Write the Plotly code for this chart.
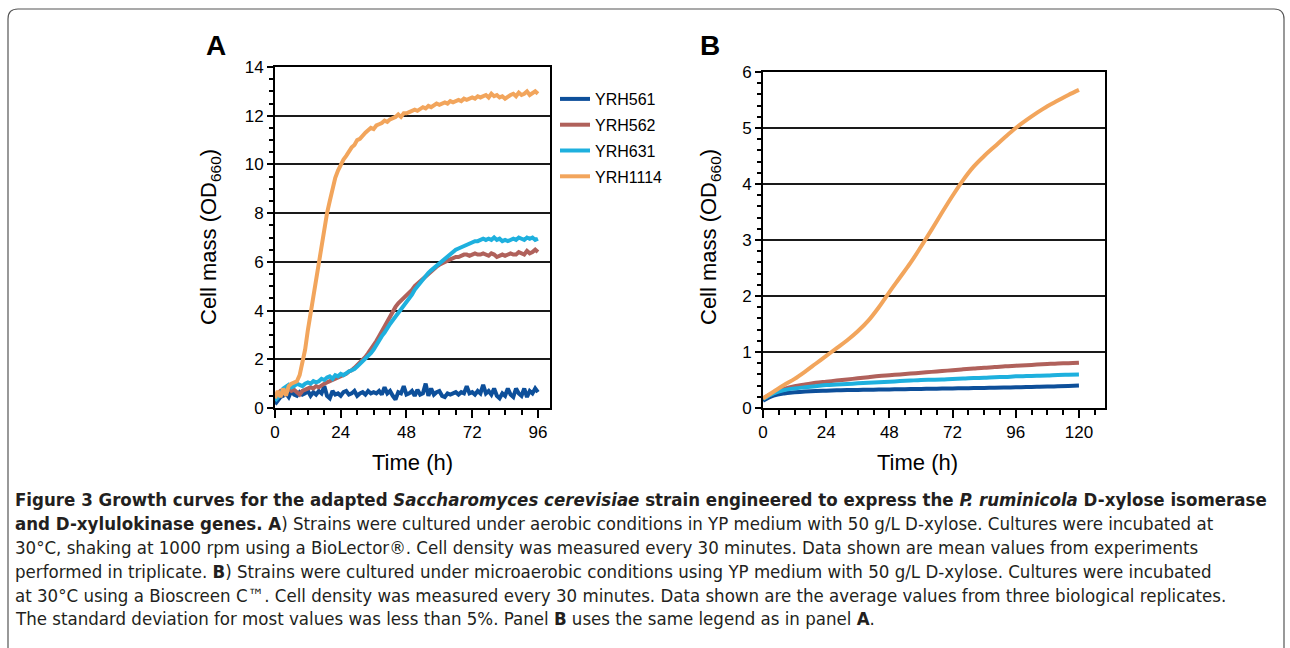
import plotly.graph_objects as go

W, H = 1290, 648

# ---------------- data ----------------
strains = ["YRH561", "YRH562", "YRH631", "YRH1114"]
colors = ["#0d4f9a", "#b0615b", "#1eb0de", "#f2a55c"]

# Panel A: hourly readings, 0..96 h
time_a = list(range(0, 97))
yrh561_a = [0.15, 0.3, 0.45, 0.5, 0.6, 0.45, 0.7, 0.55, 0.5, 0.65, 0.55, 0.6, 0.7, 0.5, 0.65, 0.55, 0.7, 0.6, 0.9, 0.5,
            0.4, 0.7, 0.55, 0.6, 0.5, 0.65, 0.7, 0.55, 0.6, 0.7, 0.5, 0.6, 0.65, 0.55, 0.7, 0.6, 0.65, 0.6, 0.7, 0.55,
            0.85, 0.6, 0.7, 0.5, 0.35, 0.65, 0.6, 0.9, 0.55, 0.6, 0.7, 0.5, 0.75, 0.55, 0.6, 1.0, 0.5, 0.8, 0.55, 0.65,
            0.7, 0.5, 0.45, 0.6, 0.55, 0.6, 0.65, 0.55, 0.65, 0.6, 0.9, 0.6, 0.65, 0.55, 0.7, 0.6, 0.95, 0.6, 0.7, 0.55,
            0.8, 0.5, 0.4, 0.6, 0.5, 0.8, 0.55, 0.45, 0.8, 0.6, 0.5, 0.8, 0.45, 0.7, 0.6, 0.8, 0.65]
yrh562_a = [0.5, 0.6, 0.7, 0.65, 0.75, 0.8, 0.7, 0.75, 0.65, 0.55, 0.7, 0.75, 0.8, 0.85, 0.8, 0.9, 0.85, 0.95, 1.0, 1.05,
            1.1, 1.15, 1.2, 1.25, 1.3, 1.35, 1.4, 1.5, 1.55, 1.65, 1.75, 1.85, 1.95, 2.1, 2.25, 2.4, 2.55, 2.75, 2.95, 3.15,
            3.35, 3.55, 3.8, 3.95, 4.15, 4.3, 4.4, 4.55, 4.65, 4.75, 4.85, 5.0, 5.1, 5.25, 5.35, 5.45, 5.55, 5.62, 5.7, 5.8,
            5.88, 5.95, 6.0, 6.05, 6.1, 6.15, 6.2, 6.2, 6.25, 6.3, 6.3, 6.25, 6.3, 6.35, 6.3, 6.3, 6.35, 6.3, 6.25, 6.35,
            6.3, 6.2, 6.25, 6.3, 6.25, 6.3, 6.35, 6.3, 6.3, 6.4, 6.35, 6.3, 6.45, 6.35, 6.4, 6.5, 6.4]
yrh631_a = [0.3, 0.4, 0.55, 0.8, 0.9, 0.95, 0.85, 0.9, 1.0, 0.95, 0.9, 1.0, 1.05, 1.0, 1.1, 1.05, 1.1, 1.2, 1.15, 1.25,
            1.3, 1.2, 1.35, 1.3, 1.4, 1.35, 1.45, 1.5, 1.55, 1.6, 1.7, 1.8, 1.9, 2.0, 2.1, 2.25, 2.4, 2.6, 2.8, 2.95,
            3.1, 3.3, 3.45, 3.6, 3.75, 3.85, 4.0, 4.2, 4.35, 4.5, 4.65, 4.85, 5.0, 5.15, 5.3, 5.45, 5.55, 5.65, 5.75, 5.85,
            5.95, 6.05, 6.1, 6.2, 6.3, 6.4, 6.5, 6.55, 6.6, 6.65, 6.7, 6.75, 6.8, 6.85, 6.85, 6.9, 6.95, 6.9, 6.95, 6.9,
            7.0, 6.9, 6.95, 6.85, 6.9, 6.85, 6.9, 6.95, 6.9, 7.0, 6.95, 6.9, 7.0, 6.95, 7.0, 6.9, 6.95]
yrh1114_a = [0.4, 0.7, 0.45, 0.8, 0.5, 0.9, 1.0, 1.05, 1.1, 1.35, 1.8, 2.4, 3.2, 3.9, 4.6, 5.3, 6.0, 6.7, 7.4, 8.0,
             8.5, 9.0, 9.45, 9.75, 10.0, 10.2, 10.35, 10.55, 10.7, 10.8, 11.0, 11.05, 11.2, 11.3, 11.4, 11.5, 11.45, 11.6, 11.65, 11.7,
             11.8, 11.75, 11.85, 11.9, 11.95, 12.05, 11.95, 12.1, 12.1, 12.15, 12.2, 12.25, 12.2, 12.3, 12.35, 12.3, 12.4, 12.35, 12.45, 12.5,
             12.45, 12.5, 12.55, 12.5, 12.6, 12.55, 12.6, 12.65, 12.6, 12.7, 12.65, 12.7, 12.75, 12.7, 12.8, 12.75, 12.8, 12.85, 12.75, 12.9,
             12.8, 12.85, 12.75, 12.8, 12.7, 12.8, 12.85, 12.9, 12.8, 12.95, 12.85, 12.9, 13.0, 12.85, 12.95, 13.0, 12.9]

# Panel B: readings every 4 h, 0..120 h
time_b = list(range(0, 121, 4))
yrh561_b = [0.13, 0.22, 0.26, 0.28, 0.295, 0.305, 0.31, 0.315, 0.32, 0.323, 0.326, 0.329, 0.332, 0.335, 0.338, 0.341,
            0.344, 0.347, 0.35, 0.353, 0.356, 0.359, 0.362, 0.366, 0.37, 0.374, 0.378, 0.382, 0.388, 0.394, 0.4]
yrh562_b = [0.17, 0.27, 0.34, 0.39, 0.42, 0.45, 0.47, 0.49, 0.51, 0.53, 0.55, 0.57, 0.585, 0.6, 0.615, 0.63,
            0.645, 0.66, 0.675, 0.69, 0.705, 0.72, 0.73, 0.745, 0.755, 0.765, 0.775, 0.785, 0.795, 0.8, 0.81]
yrh631_b = [0.16, 0.26, 0.32, 0.35, 0.37, 0.39, 0.41, 0.42, 0.43, 0.44, 0.45, 0.46, 0.47, 0.48, 0.49, 0.5,
            0.505, 0.51, 0.52, 0.525, 0.535, 0.54, 0.55, 0.555, 0.565, 0.57, 0.575, 0.58, 0.59, 0.595, 0.6]
yrh1114_b = [0.17, 0.29, 0.41, 0.52, 0.65, 0.79, 0.93, 1.07, 1.21, 1.37, 1.56, 1.8, 2.07, 2.33, 2.59, 2.88,
             3.18, 3.49, 3.79, 4.07, 4.31, 4.5, 4.67, 4.84, 5.0, 5.14, 5.27, 5.39, 5.49, 5.59, 5.68]

x_ticks_a = [0, 24, 48, 72, 96]
x_ticks_b = [0, 24, 48, 72, 96, 120]
y_ticks_a = [0, 2, 4, 6, 8, 10, 12, 14]
y_ticks_b = [0, 1, 2, 3, 4, 5, 6]

# ---------------- figure ----------------
def px_x(x):
    return x / W

def px_y(y):
    return (H - y) / H

fig = go.Figure()
series_a = [yrh561_a, yrh562_a, yrh631_a, yrh1114_a]
series_b = [yrh561_b, yrh562_b, yrh631_b, yrh1114_b]
for name, col, ya in zip(strains, colors, series_a):
    fig.add_trace(go.Scatter(x=time_a, y=ya, mode="lines", name=name,
                             line=dict(color=col, width=4), xaxis="x", yaxis="y",
                             legendgroup=name))
for name, col, yb in zip(strains, colors, series_b):
    fig.add_trace(go.Scatter(x=time_b, y=yb, mode="lines", name=name, showlegend=False,
                             line=dict(color=col, width=4, shape="spline"), xaxis="x2", yaxis="y2",
                             legendgroup=name))

sans = "Liberation Sans, Arial, sans-serif"
tickfont = dict(family=sans, size=17, color="black")
common_x = dict(showgrid=False, showline=True, linecolor="black", linewidth=2, mirror=True,
                ticks="outside", ticklen=8, tickwidth=2, tickcolor="black", tickfont=tickfont,
                zeroline=False,
                minor=dict(dtick=6, ticks="outside", ticklen=5, tickwidth=1.5, tickcolor="black", showgrid=False))
common_y = dict(showgrid=True, gridcolor="#1a1a1a", gridwidth=1.5, showline=True, linecolor="black",
                linewidth=2, mirror=True, ticks="outside", ticklen=6, tickwidth=2, tickcolor="black",
                tickfont=tickfont, zeroline=False)

fig.update_layout(
    width=W, height=H, margin=dict(l=0, r=0, t=0, b=0, autoexpand=False),
    paper_bgcolor="white", plot_bgcolor="white",
    xaxis=dict(domain=[px_x(275), px_x(550)], range=[0, 100.4], tickvals=x_ticks_a, anchor="y", **common_x),
    yaxis=dict(domain=[px_y(408), px_y(67)], range=[0, 14], tickvals=y_ticks_a, anchor="x",
               minor=dict(dtick=0.5, ticks="outside", ticklen=4, tickwidth=1.5, tickcolor="black", showgrid=False),
               **common_y),
    xaxis2=dict(domain=[px_x(763), px_x(1105)], range=[0, 129.9], tickvals=x_ticks_b, anchor="y2", **common_x),
    yaxis2=dict(domain=[px_y(408), px_y(72)], range=[0, 6], tickvals=y_ticks_b, anchor="x2",
                minor=dict(dtick=0.2, ticks="outside", ticklen=4, tickwidth=1.5, tickcolor="black", showgrid=False),
                **common_y),
    legend=dict(x=px_x(555), y=px_y(82), xanchor="left", yanchor="top", tracegroupgap=2,
                font=dict(family=sans, size=16, color="black"),
                bgcolor="rgba(0,0,0,0)"),
    showlegend=True,
)

title_font = dict(family=sans, size=22, color="black")
ann = []
ann.append(dict(text="<b>A</b>", x=px_x(204), y=px_y(46), xref="paper", yref="paper", showarrow=False,
                xanchor="left", yanchor="middle", font=dict(family=sans, size=28, color="black")))
ann.append(dict(text="<b>B</b>", x=px_x(698), y=px_y(46), xref="paper", yref="paper", showarrow=False,
                xanchor="left", yanchor="middle", font=dict(family=sans, size=28, color="black")))
for cx in (210, 710):
    ann.append(dict(text="Cell mass (OD<sub>660</sub>)", x=px_x(cx), y=px_y(237), xref="paper", yref="paper",
                    showarrow=False, textangle=-90, xanchor="center", yanchor="middle", font=title_font))
for cx in (412, 917):
    ann.append(dict(text="Time (h)", x=px_x(cx), y=px_y(462), xref="paper", yref="paper",
                    showarrow=False, xanchor="center", yanchor="middle", font=title_font))

caption = [
    "<b>Figure 3 Growth curves for the adapted <i>Saccharomyces cerevisiae</i> strain engineered to express the <i>P. ruminicola</i> D-xylose isomerase</b>",
    "<b>and D-xylulokinase genes. A</b>) Strains were cultured under aerobic conditions in YP medium with 50 g/L D-xylose. Cultures were incubated at",
    "30°C, shaking at 1000 rpm using a BioLector®. Cell density was measured every 30 minutes. Data shown are mean values from experiments",
    "performed in triplicate. <b>B</b>) Strains were cultured under microaerobic conditions using YP medium with 50 g/L D-xylose. Cultures were incubated",
    "at 30°C using a Bioscreen C™. Cell density was measured every 30 minutes. Data shown are the average values from three biological replicates.",
    "The standard deviation for most values was less than 5%. Panel <b>B</b> uses the same legend as in panel <b>A</b>.",
]
cap_y = [499, 523, 547, 571, 595, 618]
for line, yy in zip(caption, cap_y):
    ann.append(dict(text=line, x=px_x(13), y=px_y(yy), xref="paper", yref="paper", showarrow=False,
                    xanchor="left", yanchor="middle",
                    font=dict(family="DejaVu Sans Condensed, DejaVu Sans", size=18.5, color="#231f20")))
fig.update_layout(annotations=ann)

# rounded frame around the figure panel
r = 10
x0, y0, x1, y1 = 8, 9, 1284, 660
path = (f"M {px_x(x0)} {px_y(y1)} L {px_x(x0)} {px_y(y0 + r)} Q {px_x(x0)} {px_y(y0)} {px_x(x0 + r)} {px_y(y0)} "
        f"L {px_x(x1 - r)} {px_y(y0)} Q {px_x(x1)} {px_y(y0)} {px_x(x1)} {px_y(y0 + r)} L {px_x(x1)} {px_y(y1)}")
fig.add_shape(type="path", path=path, xref="paper", yref="paper", line=dict(color="#555555", width=1.2))

fig.write_html("out.html", config={"displayModeBar": False},
               post_script="document.body.style.margin='0';document.body.style.overflow='hidden';")
